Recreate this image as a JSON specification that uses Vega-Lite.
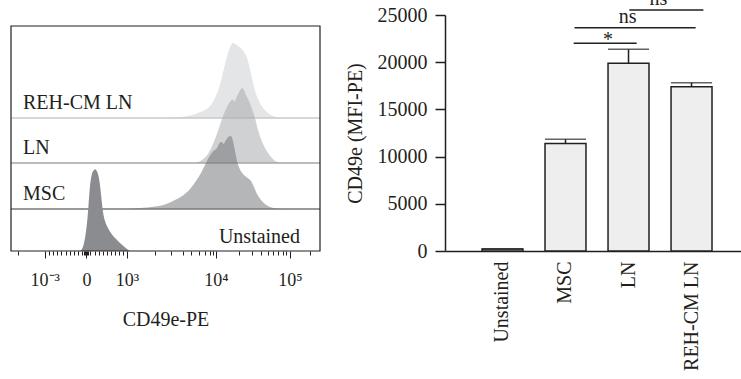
{
"$schema": "https://vega.github.io/schema/vega-lite/v6.json",
"padding": {"left": 10, "top": -12, "right": 0, "bottom": 0},
"bounds": "flush",
"spacing": 125,
"config": {
  "view": {"stroke": null},
  "font": "Liberation Serif",
  "axis": {"labelFont": "Liberation Serif", "titleFont": "Liberation Serif", "labelColor": "#231f20", "titleColor": "#231f20", "titleFontWeight": "normal", "grid": false},
  "text": {"font": "Liberation Serif", "color": "#231f20"}
},
"datasets": {
  "hist": [
    {"sample": "Unstained", "ch": 228.7, "pct": 0},
    {"sample": "Unstained", "ch": 235.3, "pct": 2.4},
    {"sample": "Unstained", "ch": 241.9, "pct": 9.8},
    {"sample": "Unstained", "ch": 246.9, "pct": 19.6},
    {"sample": "Unstained", "ch": 251.9, "pct": 34.3},
    {"sample": "Unstained", "ch": 256.8, "pct": 55.1},
    {"sample": "Unstained", "ch": 261.8, "pct": 79.6},
    {"sample": "Unstained", "ch": 268.4, "pct": 94.3},
    {"sample": "Unstained", "ch": 275.1, "pct": 99.1},
    {"sample": "Unstained", "ch": 278.4, "pct": 100},
    {"sample": "Unstained", "ch": 283.3, "pct": 98.5},
    {"sample": "Unstained", "ch": 290.0, "pct": 91.8},
    {"sample": "Unstained", "ch": 294.9, "pct": 80.8},
    {"sample": "Unstained", "ch": 299.9, "pct": 63.6},
    {"sample": "Unstained", "ch": 304.9, "pct": 47.7},
    {"sample": "Unstained", "ch": 311.5, "pct": 36.7},
    {"sample": "Unstained", "ch": 321.4, "pct": 28.2},
    {"sample": "Unstained", "ch": 334.7, "pct": 20.2},
    {"sample": "Unstained", "ch": 348.0, "pct": 14.7},
    {"sample": "Unstained", "ch": 361.2, "pct": 9.8},
    {"sample": "Unstained", "ch": 374.5, "pct": 5.5},
    {"sample": "Unstained", "ch": 384.4, "pct": 2.4},
    {"sample": "Unstained", "ch": 394.4, "pct": 0},
    {"sample": "MSC", "ch": 377.8, "pct": 0},
    {"sample": "MSC", "ch": 427.5, "pct": 1.4},
    {"sample": "MSC", "ch": 477.2, "pct": 3.4},
    {"sample": "MSC", "ch": 510.3, "pct": 6.2},
    {"sample": "MSC", "ch": 543.5, "pct": 12.3},
    {"sample": "MSC", "ch": 570.0, "pct": 18.5},
    {"sample": "MSC", "ch": 593.2, "pct": 27.4},
    {"sample": "MSC", "ch": 613.1, "pct": 38.4},
    {"sample": "MSC", "ch": 629.6, "pct": 49.3},
    {"sample": "MSC", "ch": 642.9, "pct": 60.3},
    {"sample": "MSC", "ch": 656.2, "pct": 71.2},
    {"sample": "MSC", "ch": 669.4, "pct": 78.8},
    {"sample": "MSC", "ch": 682.7, "pct": 83.6},
    {"sample": "MSC", "ch": 692.6, "pct": 91.1},
    {"sample": "MSC", "ch": 699.2, "pct": 91.8},
    {"sample": "MSC", "ch": 704.2, "pct": 89.0},
    {"sample": "MSC", "ch": 712.5, "pct": 94.5},
    {"sample": "MSC", "ch": 722.4, "pct": 99.3},
    {"sample": "MSC", "ch": 729.1, "pct": 100},
    {"sample": "MSC", "ch": 735.7, "pct": 93.2},
    {"sample": "MSC", "ch": 742.3, "pct": 79.5},
    {"sample": "MSC", "ch": 749.0, "pct": 65.8},
    {"sample": "MSC", "ch": 758.9, "pct": 54.1},
    {"sample": "MSC", "ch": 768.8, "pct": 47.9},
    {"sample": "MSC", "ch": 782.1, "pct": 43.2},
    {"sample": "MSC", "ch": 795.3, "pct": 38.4},
    {"sample": "MSC", "ch": 805.3, "pct": 30.1},
    {"sample": "MSC", "ch": 815.2, "pct": 20.5},
    {"sample": "MSC", "ch": 828.5, "pct": 12.3},
    {"sample": "MSC", "ch": 841.7, "pct": 6.8},
    {"sample": "MSC", "ch": 858.3, "pct": 2.7},
    {"sample": "MSC", "ch": 881.5, "pct": 0.7},
    {"sample": "MSC", "ch": 908.0, "pct": 0},
    {"sample": "LN", "ch": 609.8, "pct": 0},
    {"sample": "LN", "ch": 633.0, "pct": 4.0},
    {"sample": "LN", "ch": 652.8, "pct": 12.0},
    {"sample": "LN", "ch": 669.4, "pct": 25.3},
    {"sample": "LN", "ch": 686.0, "pct": 42.7},
    {"sample": "LN", "ch": 699.2, "pct": 58.7},
    {"sample": "LN", "ch": 712.5, "pct": 72.0},
    {"sample": "LN", "ch": 725.7, "pct": 81.3},
    {"sample": "LN", "ch": 734.0, "pct": 84.7},
    {"sample": "LN", "ch": 740.7, "pct": 82.0},
    {"sample": "LN", "ch": 749.0, "pct": 89.3},
    {"sample": "LN", "ch": 758.9, "pct": 96.7},
    {"sample": "LN", "ch": 765.5, "pct": 100},
    {"sample": "LN", "ch": 772.1, "pct": 97.3},
    {"sample": "LN", "ch": 778.8, "pct": 90.7},
    {"sample": "LN", "ch": 788.7, "pct": 82.7},
    {"sample": "LN", "ch": 798.6, "pct": 72.0},
    {"sample": "LN", "ch": 808.6, "pct": 60.0},
    {"sample": "LN", "ch": 818.5, "pct": 44.0},
    {"sample": "LN", "ch": 828.5, "pct": 32.0},
    {"sample": "LN", "ch": 838.4, "pct": 22.7},
    {"sample": "LN", "ch": 851.7, "pct": 13.3},
    {"sample": "LN", "ch": 864.9, "pct": 6.7},
    {"sample": "LN", "ch": 878.2, "pct": 2.0},
    {"sample": "LN", "ch": 898.1, "pct": 0},
    {"sample": "REH-CM LN", "ch": 493.8, "pct": 0},
    {"sample": "REH-CM LN", "ch": 546.8, "pct": 0.7},
    {"sample": "REH-CM LN", "ch": 593.2, "pct": 3.3},
    {"sample": "REH-CM LN", "ch": 619.7, "pct": 6.7},
    {"sample": "REH-CM LN", "ch": 642.9, "pct": 10.7},
    {"sample": "REH-CM LN", "ch": 659.5, "pct": 16.0},
    {"sample": "REH-CM LN", "ch": 676.0, "pct": 26.7},
    {"sample": "REH-CM LN", "ch": 689.3, "pct": 40.0},
    {"sample": "REH-CM LN", "ch": 699.2, "pct": 54.7},
    {"sample": "REH-CM LN", "ch": 709.2, "pct": 72.0},
    {"sample": "REH-CM LN", "ch": 719.1, "pct": 86.7},
    {"sample": "REH-CM LN", "ch": 729.1, "pct": 97.3},
    {"sample": "REH-CM LN", "ch": 735.7, "pct": 100},
    {"sample": "REH-CM LN", "ch": 745.6, "pct": 98.0},
    {"sample": "REH-CM LN", "ch": 758.9, "pct": 94.0},
    {"sample": "REH-CM LN", "ch": 772.1, "pct": 88.0},
    {"sample": "REH-CM LN", "ch": 782.1, "pct": 80.0},
    {"sample": "REH-CM LN", "ch": 792.0, "pct": 65.3},
    {"sample": "REH-CM LN", "ch": 802.0, "pct": 46.7},
    {"sample": "REH-CM LN", "ch": 811.9, "pct": 32.0},
    {"sample": "REH-CM LN", "ch": 825.2, "pct": 20.0},
    {"sample": "REH-CM LN", "ch": 838.4, "pct": 12.0},
    {"sample": "REH-CM LN", "ch": 851.7, "pct": 6.7},
    {"sample": "REH-CM LN", "ch": 868.2, "pct": 2.7},
    {"sample": "REH-CM LN", "ch": 891.4, "pct": 0}
  ],
  "bars": [
    {"group": "Unstained", "mfi": 200, "upper": 220},
    {"group": "MSC", "mfi": 11400, "upper": 11830},
    {"group": "LN", "mfi": 19900, "upper": 21360},
    {"group": "REH-CM LN", "mfi": 17400, "upper": 17830}
  ],
  "sig": [
    {"from": "MSC", "to": "LN", "level": 22000, "label": "*"},
    {"from": "MSC", "to": "REH-CM LN", "level": 23650, "label": "ns"},
    {"from": "LN", "to": "REH-CM LN", "level": 25530, "label": "ns"}
  ]
},
"hconcat": [
  {
    "width": 309,
    "height": 236,
    "resolve": {"scale": {"y": "independent"}, "axis": {"x": "independent"}},
    "layer": [
      {"layer": [
        {"data": {"name": "hist"}, "transform": [{"filter": "datum.sample == 'REH-CM LN'"}],
         "mark": {"type": "area", "color": "#e4e5e7", "interpolate": "monotone"},
         "encoding": {
           "x": {"field": "ch", "type": "quantitative", "scale": {"domain": [0, 1024], "nice": false, "zero": false},
                 "axis": {"orient": "bottom", "title": "CD49e-PE", "titleFontSize": 20, "titlePadding": 20,
                          "values": [112, 250, 384.4, 679.4, 924.6],
                          "labelExpr": "datum.value == 112 ? '10⁻³' : datum.value == 250 ? '0' : datum.value == 384.4 ? '10³' : datum.value == 679.4 ? '10⁴' : '10⁵'",
                          "labelFontSize": 18, "labelOverlap": false, "labelBound": false, "labelFlush": false, "labelPadding": 13,
                          "domain": false, "tickColor": "#231f20", "tickWidth": 1, "tickSize": 7}},
           "y": {"field": "pct", "type": "quantitative", "stack": null, "scale": {"domain": [-177.33, 137.33], "nice": false, "zero": false}, "axis": null}
         }},
        {"data": {"values": [{}]}, "mark": {"type": "rule", "color": "#c6c8cb", "strokeWidth": 1.5},
         "encoding": {"x": {"datum": 0, "type": "quantitative"}, "x2": {"datum": 1024}, "y": {"datum": 0, "type": "quantitative", "axis": null}}},
        {"data": {"values": [{}]}, "mark": {"type": "text", "align": "left", "baseline": "alphabetic", "dy": -9, "fontSize": 20},
         "encoding": {"x": {"datum": 39.8, "type": "quantitative"}, "y": {"datum": 0, "type": "quantitative", "axis": null}, "text": {"value": "REH-CM LN"}}}
      ]},
      {"layer": [
        {"data": {"name": "hist"}, "transform": [{"filter": "datum.sample == 'LN'"}],
         "mark": {"type": "area", "color": "#a9abae", "opacity": 0.55, "interpolate": "monotone"},
         "encoding": {
           "x": {"field": "ch", "type": "quantitative", "axis": null},
           "y": {"field": "pct", "type": "quantitative", "stack": null, "scale": {"domain": [-117.33, 197.33], "nice": false, "zero": false}, "axis": null}
         }},
        {"data": {"values": [{}]}, "mark": {"type": "rule", "color": "#a4a6a9", "strokeWidth": 1.5},
         "encoding": {"x": {"datum": 0, "type": "quantitative", "axis": null}, "x2": {"datum": 1024}, "y": {"datum": 0, "type": "quantitative", "axis": null}}},
        {"data": {"values": [{}]}, "mark": {"type": "text", "align": "left", "baseline": "alphabetic", "dy": -9, "fontSize": 20},
         "encoding": {"x": {"datum": 39.8, "type": "quantitative", "axis": null}, "y": {"datum": 0, "type": "quantitative", "axis": null}, "text": {"value": "LN"}}}
      ]},
      {"layer": [
        {"data": {"name": "hist"}, "transform": [{"filter": "datum.sample == 'MSC'"}],
         "mark": {"type": "area", "color": "#6b6e72", "opacity": 0.5, "interpolate": "monotone"},
         "encoding": {
           "x": {"field": "ch", "type": "quantitative", "axis": null},
           "y": {"field": "pct", "type": "quantitative", "stack": null, "scale": {"domain": [-57.53, 265.75], "nice": false, "zero": false}, "axis": null}
         }},
        {"data": {"values": [{}]}, "mark": {"type": "rule", "color": "#77797c", "strokeWidth": 1.5},
         "encoding": {"x": {"datum": 0, "type": "quantitative", "axis": null}, "x2": {"datum": 1024}, "y": {"datum": 0, "type": "quantitative", "axis": null}}},
        {"data": {"values": [{}]}, "mark": {"type": "text", "align": "left", "baseline": "alphabetic", "dy": -9, "fontSize": 20},
         "encoding": {"x": {"datum": 39.8, "type": "quantitative", "axis": null}, "y": {"datum": 0, "type": "quantitative", "axis": null}, "text": {"value": "MSC"}}}
      ]},
      {"layer": [
        {"data": {"name": "hist"}, "transform": [{"filter": "datum.sample == 'Unstained'"}],
         "mark": {"type": "area", "color": "#8a8c8f", "interpolate": "monotone"},
         "encoding": {
           "x": {"field": "ch", "type": "quantitative", "axis": null},
           "y": {"field": "pct", "type": "quantitative", "stack": null, "scale": {"domain": [0, 288.86], "nice": false, "zero": false}, "axis": null}
         }},
        {"data": {"values": [{}]}, "mark": {"type": "text", "align": "right", "baseline": "alphabetic", "dy": -8, "fontSize": 20},
         "encoding": {"x": {"datum": 957.7, "type": "quantitative", "axis": null}, "y": {"datum": 0, "type": "quantitative", "axis": null}, "text": {"value": "Unstained"}}}
      ]},
      {"data": {"values": [{}]}, "mark": {"type": "rect", "filled": false, "stroke": "#231f20", "strokeWidth": 1.2},
       "encoding": {"x": {"datum": 0, "type": "quantitative",
                          "axis": {"orient": "bottom", "title": null, "labels": false, "domain": false, "grid": false, "tickColor": "#231f20", "tickWidth": 1, "tickSize": 4,
                                   "values": [23.2, 125.8, 139.6, 153.4, 167.2, 181, 194.8, 208.6, 222.4, 236.2, 243.1, 246.5, 253.4, 256.7, 263.4, 276.9, 290.3, 303.8, 317.2, 330.6, 344.1, 357.5, 371, 477.2, 530.2, 570, 596.5, 623, 642.9, 659.5, 669.4, 755.6, 798.6, 828.5, 851.7, 868.2, 884.8, 901.4, 911.3, 990]}},
                    "x2": {"datum": 1024},
                    "y": {"datum": 0, "type": "quantitative", "scale": {"domain": [0, 1.04889], "nice": false}, "axis": null}, "y2": {"datum": 1}}}
    ]
  },
  {
    "width": 304,
    "height": 236,
    "layer": [
      {"data": {"name": "bars"}, "mark": {"type": "bar", "fill": "#eeeeee", "stroke": "#231f20", "strokeWidth": 1.5},
       "encoding": {
         "x": {"field": "group", "type": "nominal",
               "scale": {"domain": ["Unstained", "MSC", "LN", "REH-CM LN"], "paddingInner": 0.35, "paddingOuter": 0.587},
               "axis": {"title": null, "labelAngle": -90, "labelFontSize": 20, "ticks": false, "tickSize": 0, "labelPadding": 10, "domainColor": "#231f20", "domainWidth": 1.5}},
         "y": {"field": "mfi", "type": "quantitative", "scale": {"domain": [0, 25000], "nice": false},
               "axis": {"title": "CD49e (MFI-PE)", "values": [0, 5000, 10000, 15000, 20000, 25000], "format": "d",
                        "labelFontSize": 20, "titleFontSize": 20, "tickSize": 10, "tickColor": "#231f20", "tickWidth": 1.5,
                        "domainColor": "#231f20", "domainWidth": 1.5, "labelPadding": 8, "titlePadding": 12}}
       }},
      {"data": {"name": "bars"}, "mark": {"type": "rule", "color": "#231f20", "strokeWidth": 1.5},
       "encoding": {"x": {"field": "group", "type": "nominal"}, "y": {"field": "mfi", "type": "quantitative"}, "y2": {"field": "upper"}}},
      {"data": {"name": "bars"}, "mark": {"type": "tick", "color": "#231f20", "thickness": 1.5, "size": 41},
       "encoding": {"x": {"field": "group", "type": "nominal"}, "y": {"field": "upper", "type": "quantitative"}}},
      {"data": {"name": "sig"}, "transform": [{"filter": "datum.level == 22000"}], "mark": {"type": "rule", "color": "#231f20", "strokeWidth": 1.5},
       "encoding": {"x": {"field": "from", "type": "nominal", "bandPosition": 0.7}, "x2": {"field": "to", "bandPosition": 0.7}, "y": {"field": "level", "type": "quantitative"}}},
      {"data": {"name": "sig"}, "transform": [{"filter": "datum.level == 23650"}], "mark": {"type": "rule", "color": "#231f20", "strokeWidth": 1.5},
       "encoding": {"x": {"field": "from", "type": "nominal", "bandPosition": 0.72}, "x2": {"field": "to", "bandPosition": 0.6}, "y": {"field": "level", "type": "quantitative"}}},
      {"data": {"name": "sig"}, "transform": [{"filter": "datum.level == 25530"}], "mark": {"type": "rule", "color": "#231f20", "strokeWidth": 1.5},
       "encoding": {"x": {"field": "from", "type": "nominal", "bandPosition": 0.52}, "x2": {"field": "to", "bandPosition": 0.79}, "y": {"field": "level", "type": "quantitative"}}},
      {"data": {"name": "sig"}, "transform": [{"filter": "datum.level == 22000"}],
       "mark": {"type": "text", "fontSize": 20, "baseline": "alphabetic", "dy": 3},
       "encoding": {"x": {"datum": "LN", "type": "nominal", "bandPosition": 0}, "y": {"field": "level", "type": "quantitative"}, "text": {"field": "label"}}},
      {"data": {"name": "sig"}, "transform": [{"filter": "datum.level == 23650"}],
       "mark": {"type": "text", "fontSize": 20, "baseline": "alphabetic", "dy": -5},
       "encoding": {"x": {"datum": "LN", "type": "nominal", "bandPosition": 0.48}, "y": {"field": "level", "type": "quantitative"}, "text": {"field": "label"}}},
      {"data": {"name": "sig"}, "transform": [{"filter": "datum.level == 25530"}],
       "mark": {"type": "text", "fontSize": 20, "baseline": "alphabetic", "dy": -5},
       "encoding": {"x": {"datum": "LN", "type": "nominal", "bandPosition": 1.23}, "y": {"field": "level", "type": "quantitative"}, "text": {"field": "label"}}}
    ]
  }
]
}
